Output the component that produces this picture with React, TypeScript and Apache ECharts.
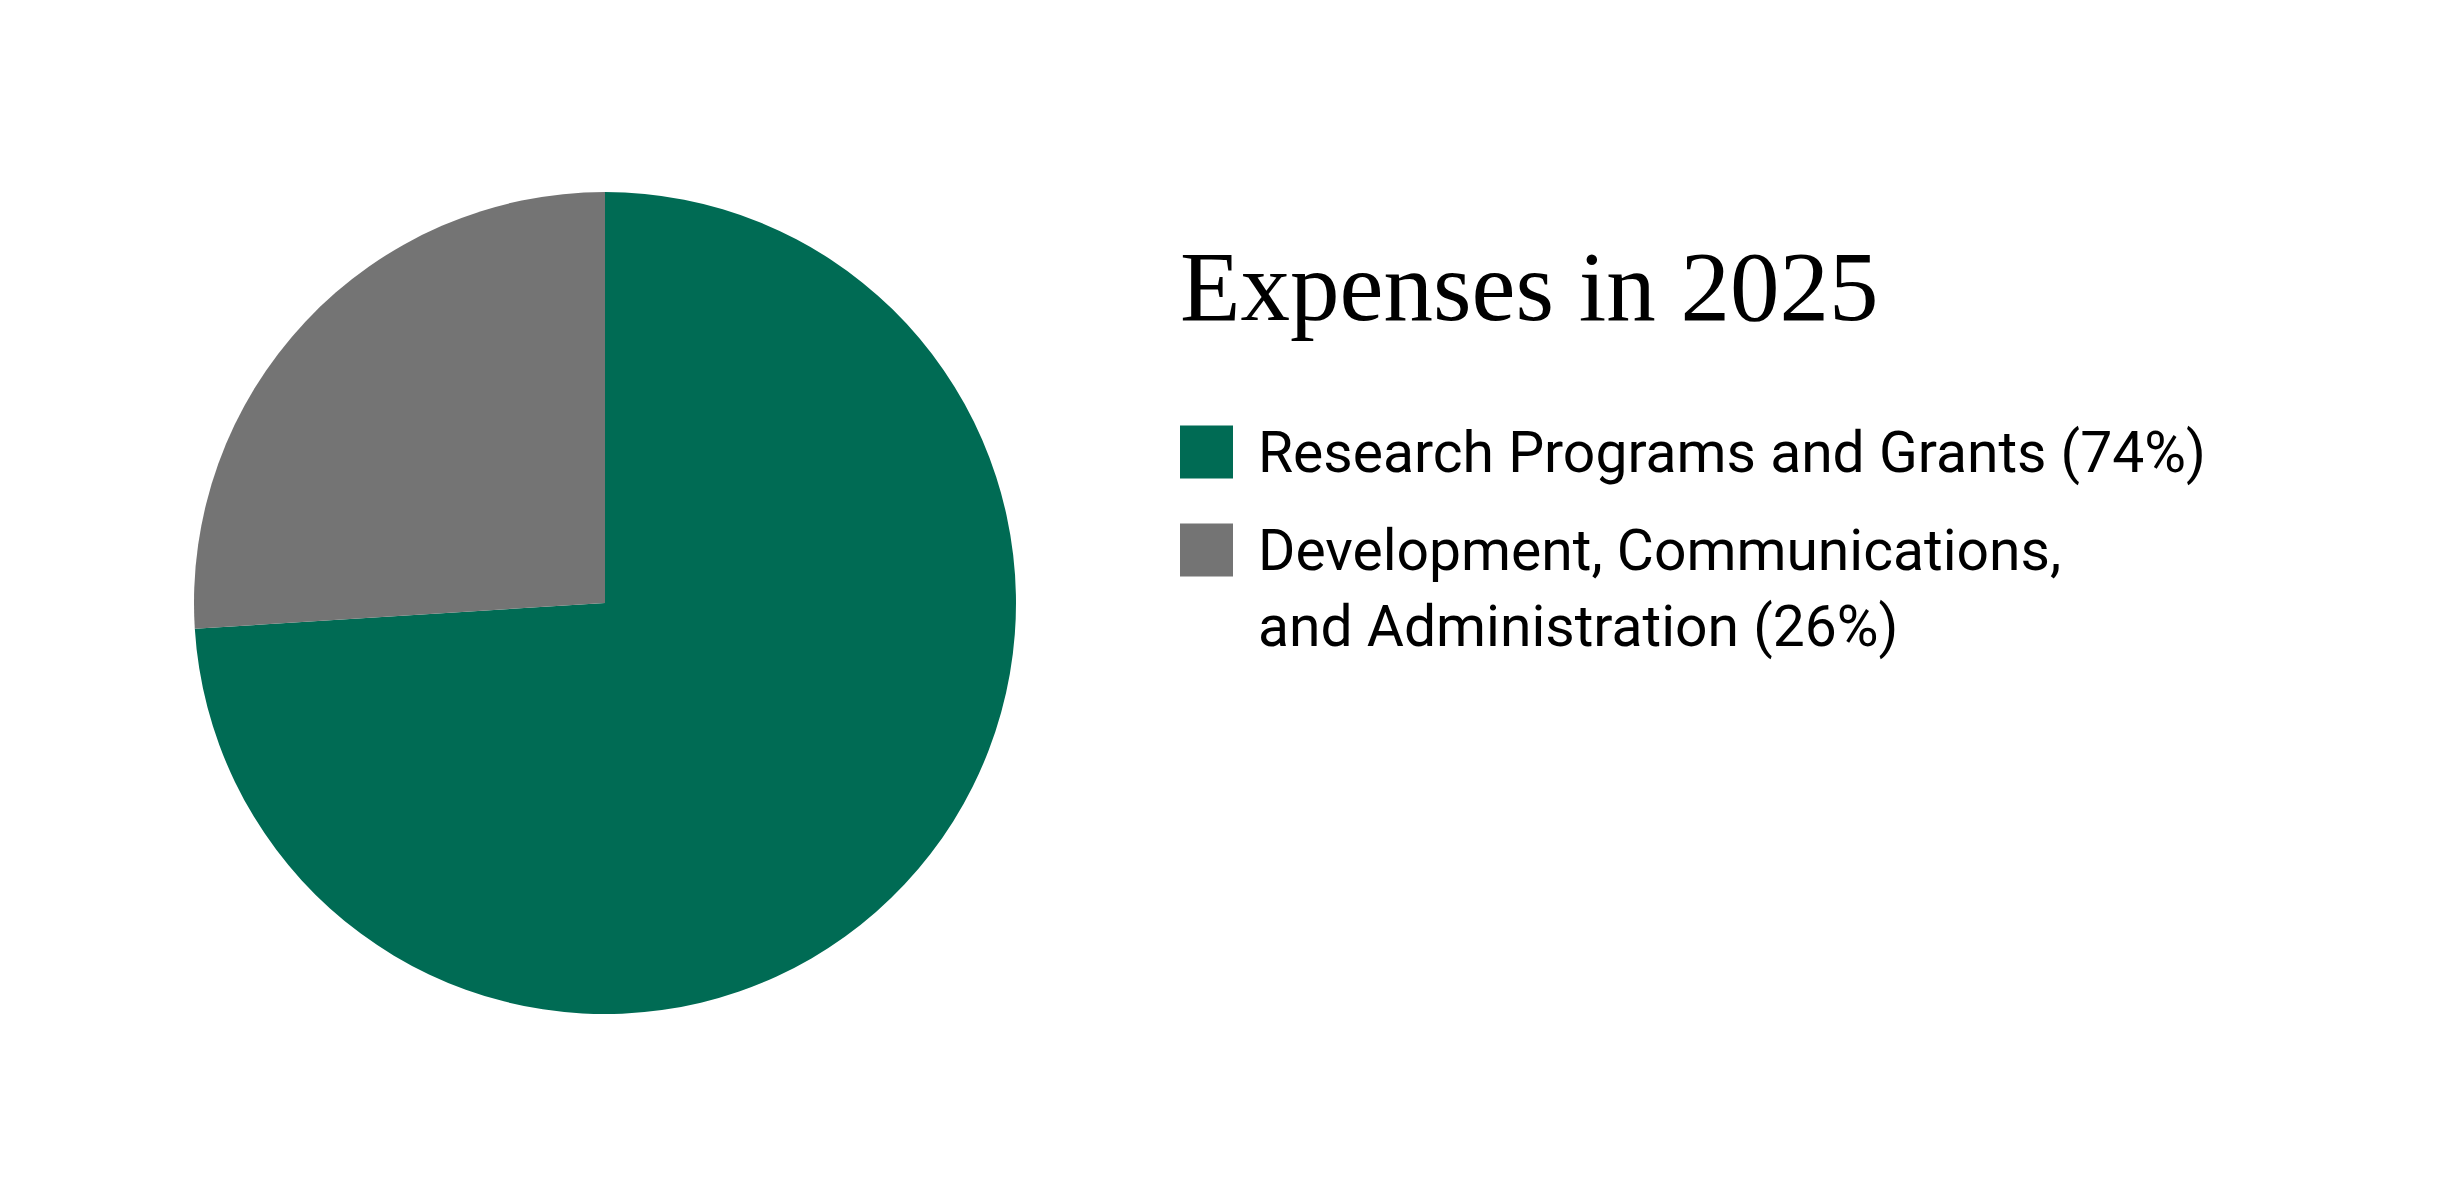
import { useEffect, useRef } from 'react';
import * as echarts from 'echarts';

const titleText = 'Expenses in 2025';
const categories = ['Research Programs and Grants', 'Development, Communications, and Administration'];
const values = [74, 26];
// a leading blank line keeps the first text line level with the legend square
const legendLabels = ['Research Programs and Grants (74%)', '\nDevelopment, Communications,\nand Administration (26%)'];
const colors = ['#006b54', '#747474'];

const App = () => {
  const chartDom = useRef<HTMLDivElement>(null);

  useEffect(() => {
    document.body.style.margin = '0';
    const chart = echarts.init(chartDom.current, null, { renderer: 'svg' });

    const option = {
      animation: false,
      title: {
        text: titleText,
        left: 1180,
        top: 237,
        padding: 0,
        textStyle: {
          fontFamily: 'Liberation Serif',
          fontSize: 99,
          fontWeight: 'normal',
          color: '#000',
        },
      },
      legend: {
        orient: 'vertical',
        left: 1180,
        top: 414,
        padding: 0,
        itemWidth: 53,
        itemHeight: 53,
        itemGap: -54,
        icon: 'rect',
        selectedMode: false,
        formatter: (name: string) => legendLabels[categories.indexOf(name)],
        textStyle: {
          fontFamily: 'Roboto',
          fontSize: 57,
          lineHeight: 76,
          color: '#000',
          padding: [0, 0, 0, 20],
        },
        data: categories,
      },
      series: [
        {
          type: 'pie',
          center: [605, 603],
          radius: 411,
          startAngle: 90,
          clockwise: true,
          silent: true,
          label: { show: false },
          labelLine: { show: false },
          itemStyle: { borderWidth: 0 },
          data: categories.map((name, i) => ({
            name,
            value: values[i],
            itemStyle: { color: colors[i] },
          })),
        },
      ],
    };

    chart.setOption(option);
    return () => {
      chart.dispose();
    };
  }, []);

  return <div ref={chartDom} style={{ width: 2460, height: 1200 }} />;
};

export default App;
